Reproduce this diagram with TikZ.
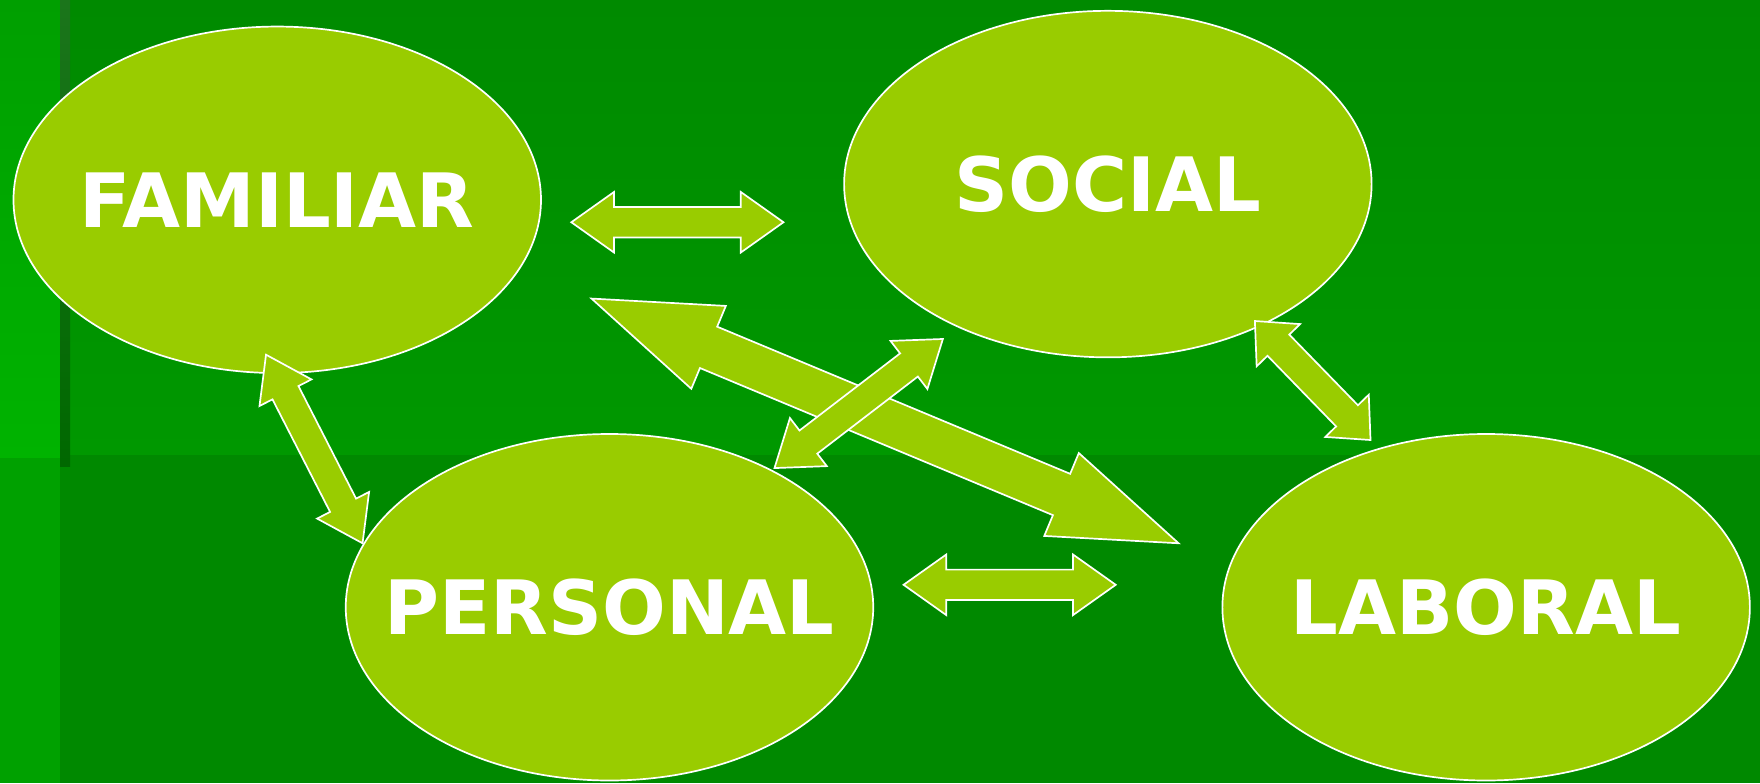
\documentclass[tikz,border=0pt]{standalone}
\usepackage{fontspec}
\setmainfont{DejaVu Sans}
\usetikzlibrary{calc,shapes.geometric}
\definecolor{lime}{HTML}{99CC00}
\definecolor{maintop}{HTML}{008A00}
\definecolor{mainbot}{HTML}{009800}
\definecolor{lowband}{HTML}{008900}
\definecolor{striptop}{HTML}{009F00}
\definecolor{stripbot}{HTML}{00B300}
\definecolor{striplow}{HTML}{00A100}
\definecolor{linetop}{HTML}{1B751B}
\definecolor{linebot}{HTML}{006800}
\tikzset{
  bubble/.style={ellipse, draw=white, line width=1.7pt, fill=lime, minimum width=527.5pt, minimum height=346.5pt, inner sep=0pt,
    label={[text=white, font=\bfseries\fontsize{75}{80}\selectfont, inner sep=0pt]center:#1}},
  blockarrow/.style={draw=white, line width=1.7pt, fill=lime, line join=miter},
}
\newcommand\dblarrow[6]{%
  \coordinate (#1h1) at ($(#2)!#6!(#3)$);
  \coordinate (#1h2) at ($(#3)!#6!(#2)$);
  \draw[blockarrow] (#2) -- ($(#1h1)!#5!90:(#3)$) -- ($(#1h1)!#4!90:(#3)$)
    -- ($(#1h2)!#4!-90:(#2)$) -- ($(#1h2)!#5!-90:(#2)$) -- (#3)
    -- ($(#1h2)!#5!90:(#2)$) -- ($(#1h2)!#4!90:(#2)$)
    -- ($(#1h1)!#4!-90:(#3)$) -- ($(#1h1)!#5!-90:(#3)$) -- cycle;
}
\begin{document}
\begin{tikzpicture}[x=1.12245pt,y=-1.12245pt]
\useasboundingbox (0,0) rectangle (1568,697.6);
% background
\shade[top color=maintop, bottom color=mainbot] (53.46,0) rectangle (1568,405.4);
\fill[lowband] (53.46,405.4) rectangle (1568,697.6);
\shade[top color=striptop, bottom color=stripbot] (0,0) rectangle (53.46,408);
\fill[striplow] (0,408) rectangle (53.46,697.6);
\shade[top color=linetop, bottom color=linebot] (53.46,0) rectangle (62.4,415.2);
% ellipses
\node[bubble=FAMILIAR] (fam) at (247,178) {};
\node[bubble=SOCIAL] (soc) at (987,164) {};
\node[bubble=PERSONAL] (per) at (543,541) {};
\node[bubble=LABORAL] (lab) at (1324,541) {};
% arrow end points
\coordinate (a1) at (509,198);  \coordinate (b1) at (698,198);
\coordinate (a2) at (805,521);  \coordinate (b2) at (994,521);
\coordinate (a3) at (527,266);  \coordinate (b3) at (1050,484);
\coordinate (a4) at (690,417);  \coordinate (b4) at (840,302);
\coordinate (a5) at (237,316);  \coordinate (b5) at (323,484);
\coordinate (a6) at (1118,286); \coordinate (b6) at (1221,392);
% arrows
\dblarrow{ar1}{a1}{b1}{15.2pt}{30.3pt}{42.7pt}
\dblarrow{ar2}{a2}{b2}{15.2pt}{30.3pt}{42.7pt}
\dblarrow{ar3}{a3}{b3}{22.4pt}{44.9pt}{126.8pt}
\dblarrow{ar4}{a4}{b4}{14.6pt}{30.3pt}{42.7pt}
\dblarrow{ar5}{a5}{b5}{14.6pt}{29.2pt}{42.7pt}
\dblarrow{ar6}{a6}{b6}{15.2pt}{30.3pt}{33.7pt}
\end{tikzpicture}
\end{document}
